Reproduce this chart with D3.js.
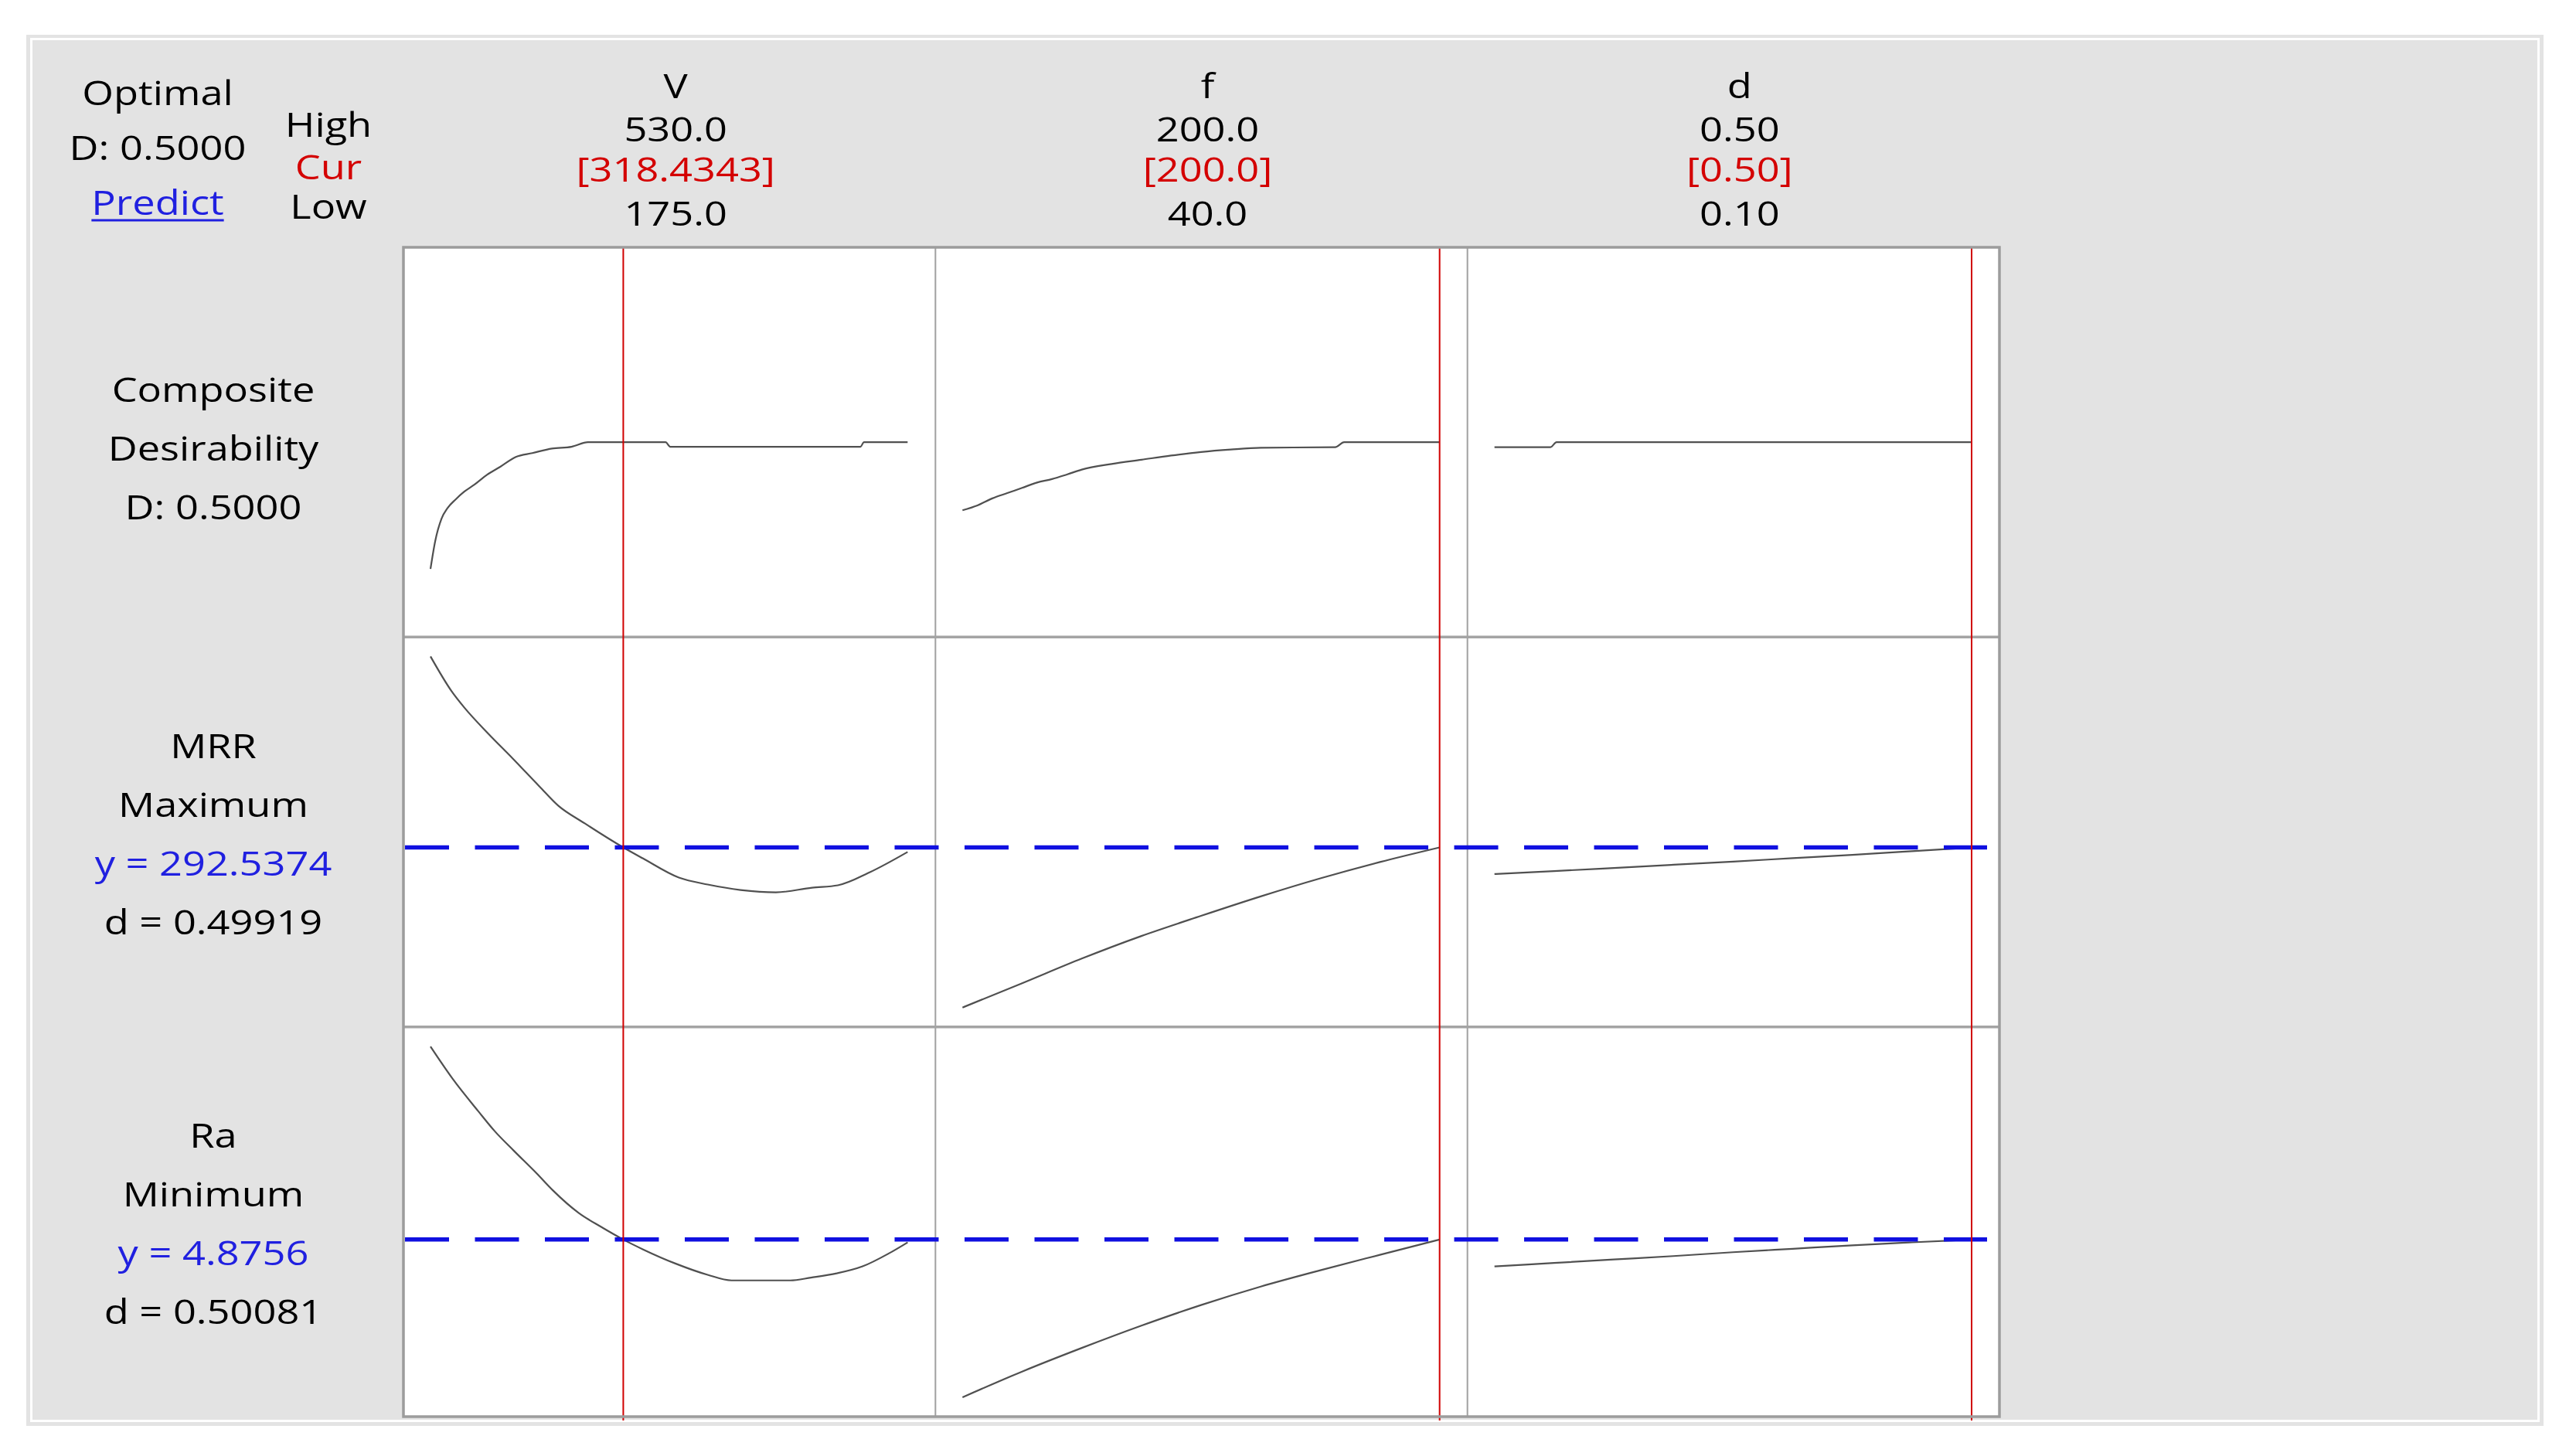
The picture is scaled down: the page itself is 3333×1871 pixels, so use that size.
<!DOCTYPE html>
<html>
<head>
<meta charset="utf-8">
<script src="https://cdn.jsdelivr.net/npm/d3@7"></script>
<style>
  html, body { margin: 0; padding: 0; background: #ffffff; }
  svg { display: block; }
  text { font-family: "Segoe UI", "Open Sans", "Noto Sans", sans-serif; }
</style>
</head>
<body>
<svg id="chart"></svg>
<script>
// ---- Factors (columns) ----
const factors = ["V", "f", "d"];
const factorHigh = ["530.0", "200.0", "0.50"];
const factorCur = ["[318.4343]", "[200.0]", "[0.50]"];
const factorLow = ["175.0", "40.0", "0.10"];
const factorDomains = [[175, 530], [40, 200], [0.10, 0.50]];
const currentSettings = [318.4343, 200.0, 0.50];

// ---- Responses (rows) ----
const responseLabels = [
  ["Composite", "Desirability", "D: 0.5000"],
  ["MRR", "Maximum", "y = 292.5374", "d = 0.49919"],
  ["Ra", "Minimum", "y = 4.8756", "d = 0.50081"]
];
const responseDomains = [[0, 1], [62.0, 567.6], [1.20, 9.38]];
const predictedY = [null, 292.5374, 4.8756];

// ---- Composite desirability traces ----
const compositeV = [[175, 0.139], [178.5, 0.218], [183.2, 0.282], [187.8, 0.313], [193.7, 0.337],
  [200.1, 0.359], [207.6, 0.379], [217.0, 0.407], [226.9, 0.430], [238.5, 0.458], [250.8, 0.469],
  [265.4, 0.482], [279.9, 0.487], [292.2, 0.500], [349.9, 0.500], [353.4, 0.487], [495.0, 0.487],
  [497.4, 0.500], [530, 0.500]];
const compositeF = [[40, 0.306], [45, 0.320], [50, 0.340], [55, 0.355], [60, 0.370], [65, 0.385],
  [70, 0.395], [75, 0.408], [80, 0.422], [90, 0.438], [100, 0.450], [110, 0.462], [120, 0.472],
  [130, 0.479], [140, 0.484], [165, 0.486], [168, 0.500], [200, 0.500]];
const compositeD = [[0.10, 0.486], [0.147, 0.486], [0.152, 0.500], [0.50, 0.500]];

// ---- MRR traces ----
const mrrV = [[175, 567.6], [190.7, 517.5], [200.1, 494.1], [218.1, 456.2], [236.2, 420.6],
  [256.0, 380.5], [270.0, 352.7], [289.8, 327.1], [318.4343, 292.5374], [332.9, 276.9],
  [359.8, 249.1], [381.3, 239.1], [405.8, 231.3], [432.0, 227.9], [458.9, 234.6], [478.1, 238.0],
  [502.0, 256.9], [530, 286.0]];
const mrrF = [[40, 62.0], [60, 97.0], [80, 132.5], [100, 165.0], [120, 194.0], [140, 222.0],
  [160, 248.0], [180, 271.5], [200, 292.5374]];
const mrrD = [[0.10, 254.3], [0.15, 258.5], [0.20, 263.0], [0.25, 267.6], [0.30, 272.2],
  [0.35, 277.0], [0.40, 281.8], [0.45, 287.1], [0.50, 292.5374]];

// ---- Ra traces ----
const raV = [[175, 9.37], [191.6, 8.614], [210.7, 7.859], [222.8, 7.400], [237.1, 6.941],
  [254.0, 6.416], [266.0, 6.023], [285.2, 5.497], [302.0, 5.169], [318.4343, 4.8756],
  [333.2, 4.645], [357.2, 4.317], [381.2, 4.054], [399.0, 3.923], [442.7, 3.923], [458.1, 3.989],
  [477.2, 4.087], [496.5, 4.250], [515.7, 4.546], [530, 4.809]];
const raF = [[40, 1.20], [60, 1.80], [80, 2.35], [100, 2.87], [120, 3.35], [140, 3.78],
  [160, 4.16], [180, 4.52], [200, 4.8756]];
const raD = [[0.10, 4.25], [0.15, 4.33], [0.20, 4.41], [0.25, 4.49], [0.30, 4.58],
  [0.35, 4.66], [0.40, 4.74], [0.45, 4.81], [0.50, 4.8756]];

const traces = [
  [compositeV, compositeF, compositeD],
  [mrrV, mrrF, mrrD],
  [raV, raF, raD]
];

// ---- Layout ----
const W = 3333, H = 1871;
const plot = { left: 522, right: 2587, top: 320, bottom: 1833 };
const colW = (plot.right - plot.left) / 3;
const rowH = (plot.bottom - plot.top) / 3;
const FONT = 44, SX = 1.19;
const BG = "#e3e3e3";

const svg = d3.select("#chart").attr("width", W).attr("height", H);
svg.append("rect").attr("width", W).attr("height", H).attr("fill", "#ffffff");

// window frame and grey panel
svg.append("rect").attr("x", 34).attr("y", 45).attr("width", 3257).attr("height", 1800).attr("fill", BG);
svg.append("rect").attr("x", 40.5).attr("y", 50.5).attr("width", 3244).attr("height", 1788)
  .attr("fill", "none").attr("stroke", "#ffffff").attr("stroke-width", 3);

function label(x, y, str, color, size) {
  return svg.append("text")
    .attr("transform", `translate(${x},${y}) scale(${SX},1)`)
    .attr("text-anchor", "middle")
    .attr("font-size", size || FONT)
    .attr("fill", color || "#000000")
    .text(str);
}

// header block
label(204, 136, "Optimal");
label(204, 207, "D: 0.5000");
const predict = label(204, 278, "Predict", "#2020e0");
const pw = predict.node().getComputedTextLength() * SX;
svg.append("line").attr("x1", 204 - pw / 2).attr("x2", 204 + pw / 2)
  .attr("y1", 285).attr("y2", 285).attr("stroke", "#2020e0").attr("stroke-width", 3);
label(425, 177, "High");
label(425, 232, "Cur", "#d40000");
label(425, 283, "Low");

const xScales = factorDomains.map((dom, i) => {
  const l = plot.left + i * colW;
  return d3.scaleLinear().domain(dom).range([l + 35, l + colW - 36]);
});
const yScales = responseDomains.map((dom, j) => {
  const t = plot.top + j * rowH;
  return d3.scaleLinear().domain(dom).range([t + rowH - 25, t + 25]);
});

factors.forEach((name, i) => {
  const cx = plot.left + i * colW + colW / 2 + 8;
  label(cx, 127, name);
  label(cx, 183, factorHigh[i]);
  label(cx, 235, factorCur[i], "#d40000");
  label(cx, 292, factorLow[i]);
});

// row labels
const labelCenter = [276, 271, 270];
responseLabels.forEach((lines, j) => {
  const t = plot.top + j * rowH;
  lines.forEach((s, k) => {
    const y = t + labelCenter[j] + (k - (lines.length - 1) / 2) * 76;
    const color = s.startsWith("y =") ? "#2020e0" : "#000000";
    label(276, y, s, color);
  });
});

// plot area
svg.append("rect").attr("x", plot.left).attr("y", plot.top)
  .attr("width", plot.right - plot.left).attr("height", plot.bottom - plot.top).attr("fill", "#ffffff");

// column and row separators
const grid = svg.append("g");
for (let i = 1; i < 3; i++) {
  const x = plot.left + i * colW;
  grid.append("line").attr("x1", x).attr("x2", x).attr("y1", plot.top).attr("y2", plot.bottom)
    .attr("stroke", "#a0a0a0").attr("stroke-width", 2);
}
for (let j = 1; j < 3; j++) {
  const y = plot.top + j * rowH;
  grid.append("line").attr("x1", plot.left).attr("x2", plot.right).attr("y1", y).attr("y2", y)
    .attr("stroke", "#a4a4a4").attr("stroke-width", 3.5);
}

// response traces
traces.forEach((row, j) => {
  row.forEach((pts, i) => {
    const line = d3.line()
      .x(d => xScales[i](d[0]))
      .y(d => yScales[j](d[1]))
      .curve(d3.curveMonotoneX);
    svg.append("path").attr("d", line(pts)).attr("fill", "none")
      .attr("stroke", "#505050").attr("stroke-width", 2.2).attr("stroke-linejoin", "round");
  });
});

// predicted response levels
predictedY.forEach((v, j) => {
  if (v === null) return;
  const y = yScales[j](v);
  svg.append("line").attr("x1", plot.left + 2).attr("x2", 2571).attr("y1", y).attr("y2", y)
    .attr("stroke", "#1010e0").attr("stroke-width", 5.5).attr("stroke-dasharray", "57,33.5");
});

// current factor settings
currentSettings.forEach((v, i) => {
  const x = xScales[i](v);
  svg.append("line").attr("x1", x).attr("x2", x).attr("y1", plot.top).attr("y2", plot.bottom + 5)
    .attr("stroke", "#d00000").attr("stroke-width", 2);
});

// plot border
svg.append("rect").attr("x", plot.left).attr("y", plot.top)
  .attr("width", plot.right - plot.left).attr("height", plot.bottom - plot.top)
  .attr("fill", "none").attr("stroke", "#9c9c9c").attr("stroke-width", 3.5);
</script>
</body>
</html>
